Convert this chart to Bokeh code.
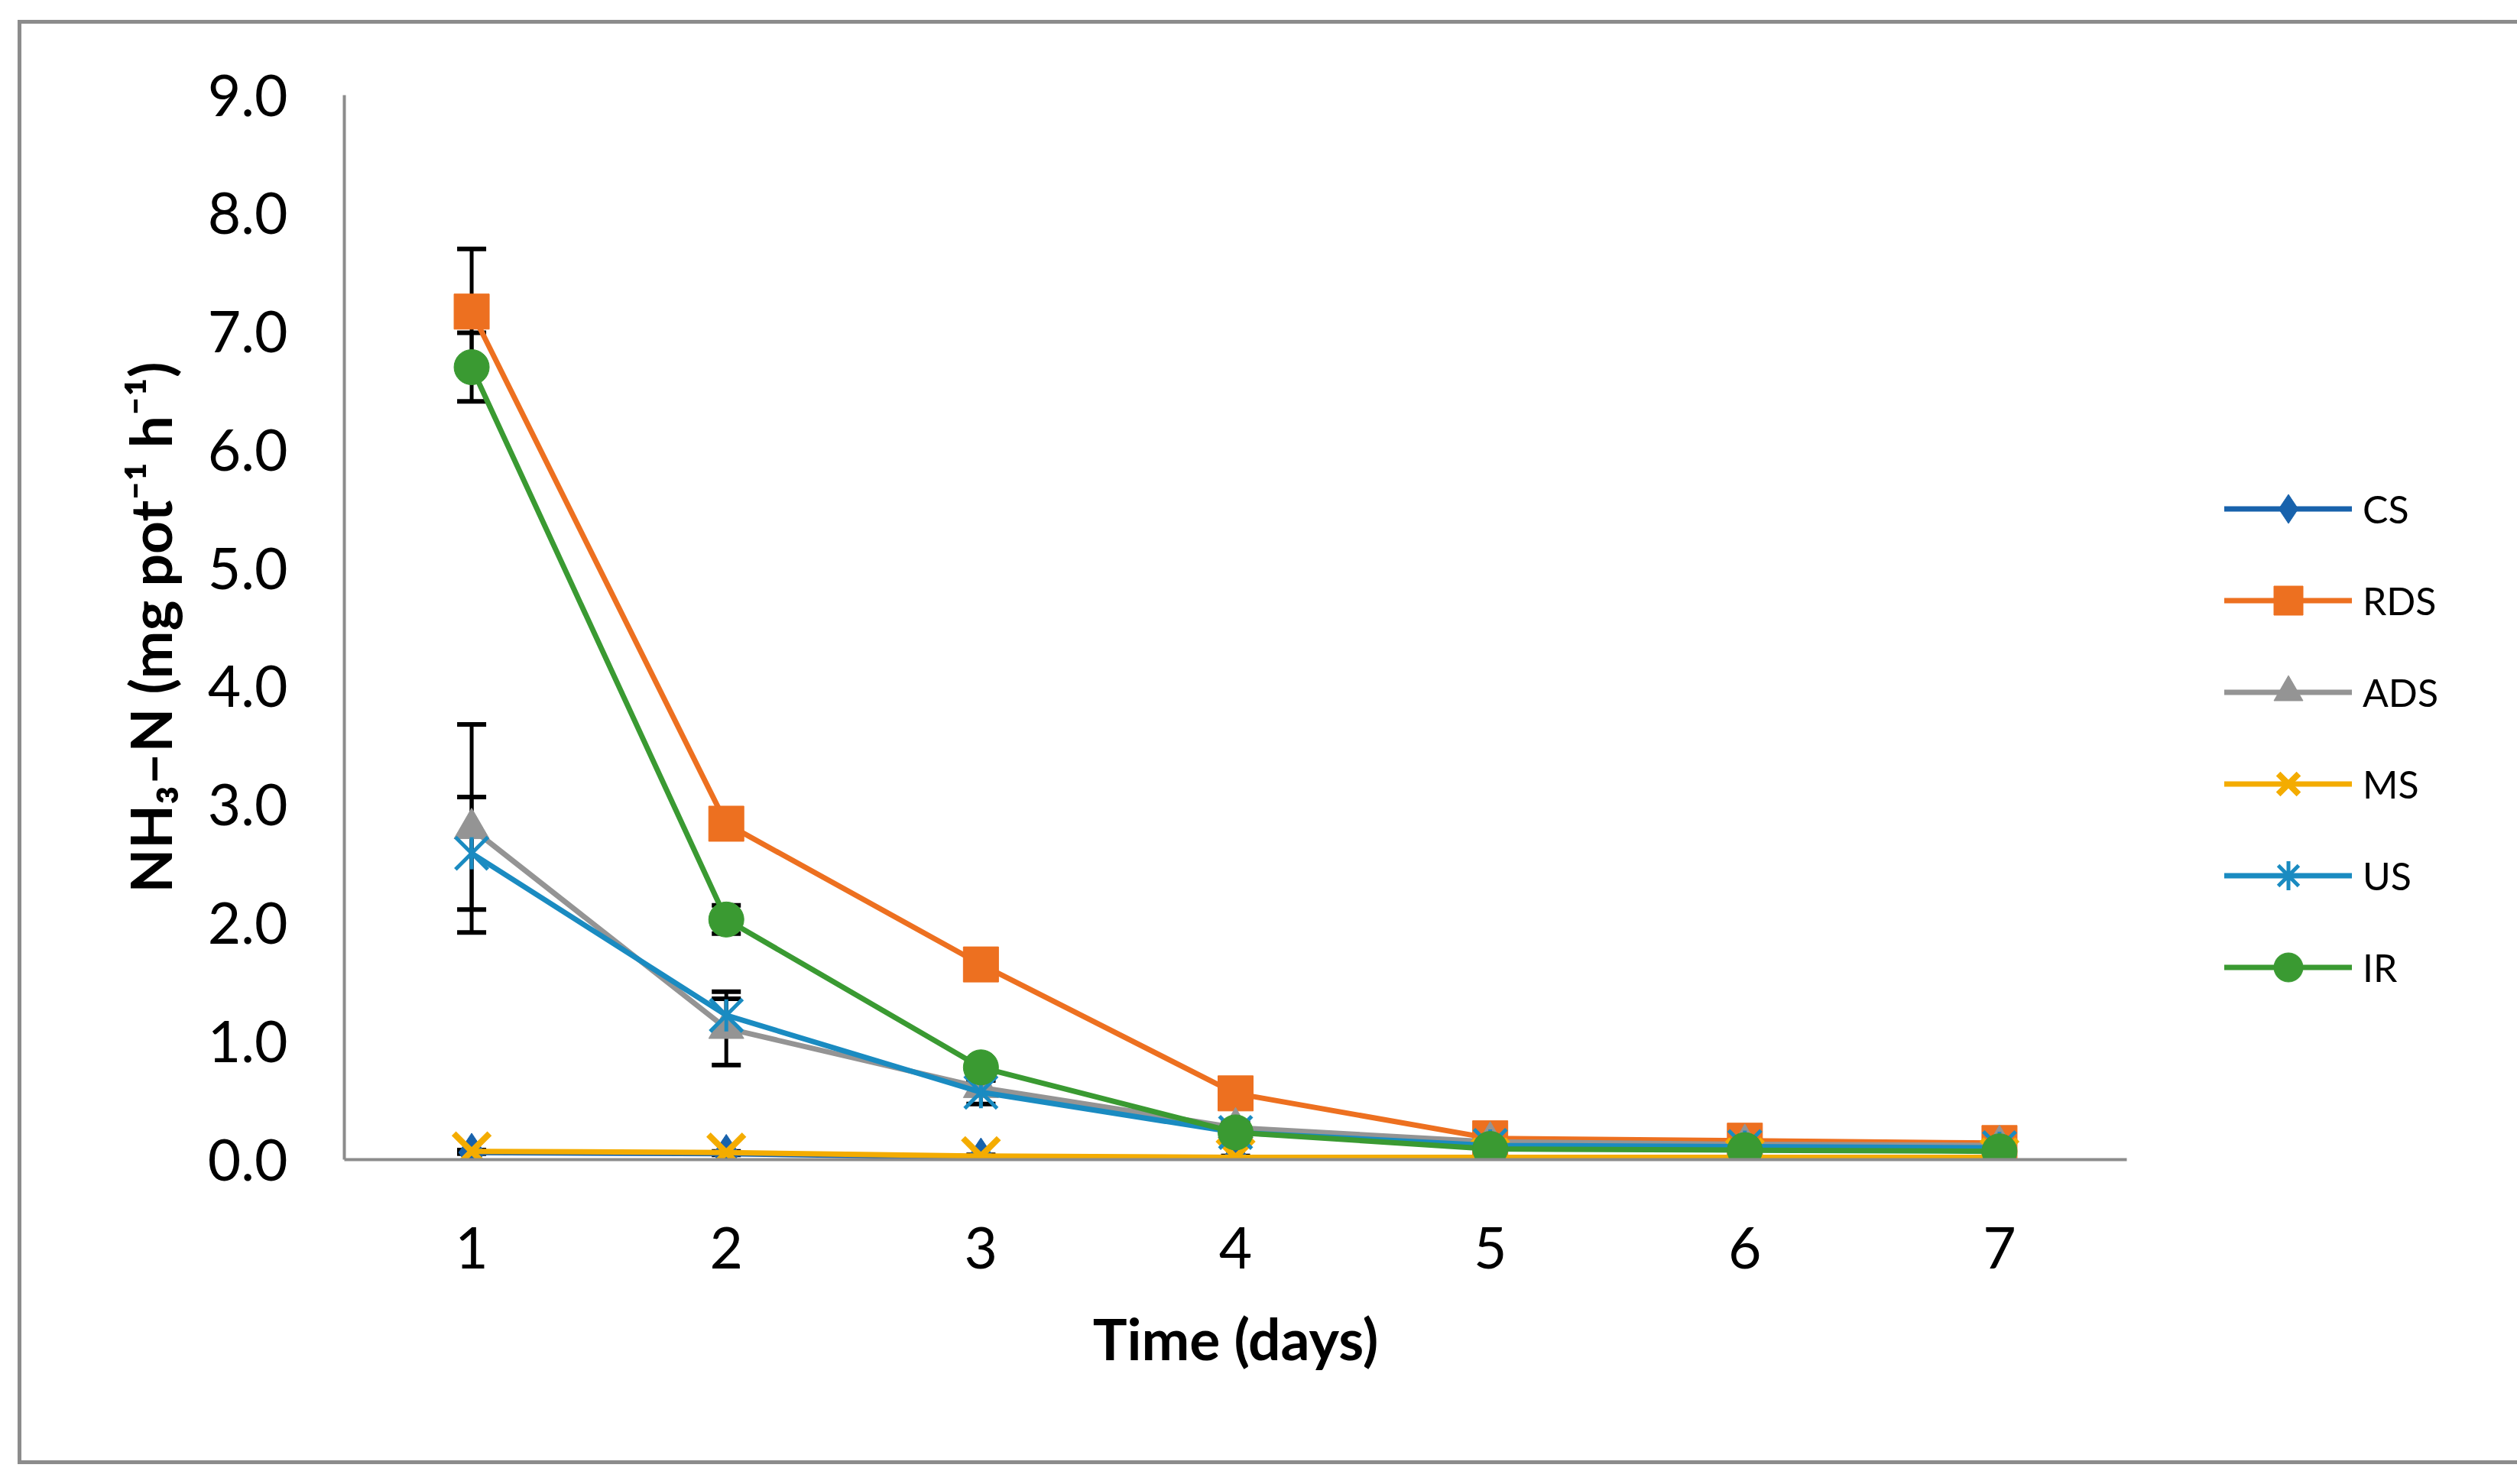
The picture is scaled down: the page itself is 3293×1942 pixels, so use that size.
from bokeh.plotting import figure
from bokeh.models import Range1d, FixedTicker, Legend, LegendItem, Whisker, TeeHead, ColumnDataSource, PrintfTickFormatter
from bokeh.embed import file_html
from bokeh.resources import INLINE
import math

# ---------------- data ----------------
days = [1, 2, 3, 4, 5, 6, 7]
series_names = ["CS", "RDS", "ADS", "MS", "US", "IR"]
cs = [0.06, 0.05, 0.02, 0.01, 0.01, 0.01, 0.01]
rds = [7.17, 2.84, 1.65, 0.56, 0.18, 0.16, 0.14]
ads = [2.80, 1.11, 0.61, 0.27, 0.15, 0.13, 0.12]
ms = [0.07, 0.06, 0.03, 0.02, 0.02, 0.02, 0.02]
us = [2.59, 1.22, 0.57, 0.23, 0.12, 0.11, 0.10]
ir = [6.70, 2.03, 0.78, 0.23, 0.09, 0.08, 0.07]

cs_err = [0.01, 0.01, 0.01, 0.01, 0.01, 0.01, 0.01]
rds_err = [0.53, 0.10, 0.08, 0.05, 0.02, 0.02, 0.02]
ads_err = [0.88, 0.31, 0.06, 0.04, 0.02, 0.02, 0.02]
ms_err = [0.01, 0.01, 0.01, 0.01, 0.01, 0.01, 0.01]
us_err = [0.475, 0.14, 0.10, 0.04, 0.02, 0.02, 0.02]
ir_err = [0.29, 0.12, 0.05, 0.03, 0.02, 0.02, 0.02]

y_ticks = [0, 1, 2, 3, 4, 5, 6, 7, 8, 9]
x_label = "Time (days)"
y_label = "NH\u2083\u2013N (mg pot\u207b\u00b9 h\u207b\u00b9)"

# ---------------- styles ----------------
colors = {"CS": "#1862AC", "RDS": "#ED7020", "ADS": "#949494",
          "MS": "#F4AC00", "US": "#1A8BC1", "IR": "#3A9A32"}
FONT = "Lato"

values = {"CS": cs, "RDS": rds, "ADS": ads, "MS": ms, "US": us, "IR": ir}
errors = {"CS": cs_err, "RDS": rds_err, "ADS": ads_err, "MS": ms_err, "US": us_err, "IR": ir_err}

p = figure(output_backend="svg", toolbar_location=None,
           frame_width=2332, frame_height=1393,
           width=3242, height=1880,
           min_border_left=422, min_border_right=488,
           min_border_top=93, min_border_bottom=394,
           x_range=Range1d(0.5, 7.5), y_range=Range1d(0, 9))
p.margin = (26, 0, 0, 23)
p.styles = {"border": "5px solid #8C8C8C"}

p.outline_line_color = None
p.xgrid.grid_line_color = None
p.ygrid.grid_line_color = None
p.background_fill_color = "white"
p.border_fill_color = "white"

for ax in (p.xaxis[0], p.yaxis[0]):
    ax.axis_line_color = "#8C8C8C"
    ax.axis_line_width = 4
    ax.major_tick_line_color = None
    ax.minor_tick_line_color = None
    ax.major_tick_out = 0
    ax.major_tick_in = 0
    ax.major_label_text_font = FONT
    ax.major_label_text_font_size = "75px"
    ax.major_label_text_color = "black"
    ax.axis_label_text_font = FONT
    ax.axis_label_text_font_style = "bold"
    ax.axis_label_text_font_size = "75px"
    ax.axis_label_text_color = "black"

p.xaxis[0].ticker = FixedTicker(ticks=days)
p.xaxis[0].major_label_standoff = 88
p.xaxis[0].axis_label = x_label
p.xaxis[0].axis_label_standoff = 43

p.yaxis[0].ticker = FixedTicker(ticks=y_ticks)
p.yaxis[0].formatter = PrintfTickFormatter(format="%.1f")
p.yaxis[0].major_label_standoff = 74
p.yaxis[0].axis_label = y_label
p.yaxis[0].axis_label_standoff = 28

# error bars (under everything)
for name in series_names:
    v = values[name]
    e = errors[name]
    src = ColumnDataSource(dict(x=days, lo=[a - b for a, b in zip(v, e)], hi=[a + b for a, b in zip(v, e)]))
    w = Whisker(source=src, base="x", lower="lo", upper="hi", dimension="height",
                line_color="black", line_width=5, level="underlay",
                lower_head=TeeHead(size=38, line_color="black", line_width=6),
                upper_head=TeeHead(size=38, line_color="black", line_width=6))
    p.add_layout(w)

items = []
LW = 7
MSIZE = 46
nan = [float("nan")]
for name in series_names:
    c = colors[name]
    v = values[name]
    rs = [p.line(days, v, line_color=c, line_width=LW, line_join="round", line_cap="round")]
    if name == "CS":
        rs.append(p.scatter(days, v, marker="diamond", size=MSIZE * 1.1, fill_color=c, line_color=c))
    elif name == "RDS":
        rs.append(p.scatter(days, v, marker="square", size=MSIZE, fill_color=c, line_color=c))
    elif name == "ADS":
        rs.append(p.scatter(days, v, marker="triangle", size=MSIZE, fill_color=c, line_color=c))
    elif name == "MS":
        for ang in (math.pi / 4, -math.pi / 4):
            p.scatter(days, v, marker="dash", size=66, angle=ang, line_color=c, line_width=8)
        # legend-only glyph (no data drawn)
        rs.append(p.scatter(nan, nan, marker="x", size=40, line_color=c, line_width=8))
    elif name == "US":
        for ang in (math.pi / 4, -math.pi / 4):
            p.scatter(days, v, marker="dash", size=60, angle=ang, line_color=c, line_width=5)
        p.scatter(days, v, marker="dash", size=42, angle=math.pi / 2, line_color=c, line_width=5)
        rs.append(p.scatter(nan, nan, marker="asterisk", size=40, line_color=c, line_width=5))
    elif name == "IR":
        rs.append(p.scatter(days, v, marker="circle", size=MSIZE, fill_color=c, line_color=c))
    items.append(LegendItem(label=name, renderers=rs))

legend = Legend(items=items, location=(128, 204), orientation="vertical",
                glyph_width=167, glyph_height=95, label_height=95,
                spacing=25, padding=0, margin=100, label_standoff=14,
                label_text_font=FONT, label_text_font_size="50px", label_text_color="black",
                border_line_color=None, background_fill_alpha=0)
p.add_layout(legend, "right")

open("out.html", "w").write(file_html(p, INLINE))
